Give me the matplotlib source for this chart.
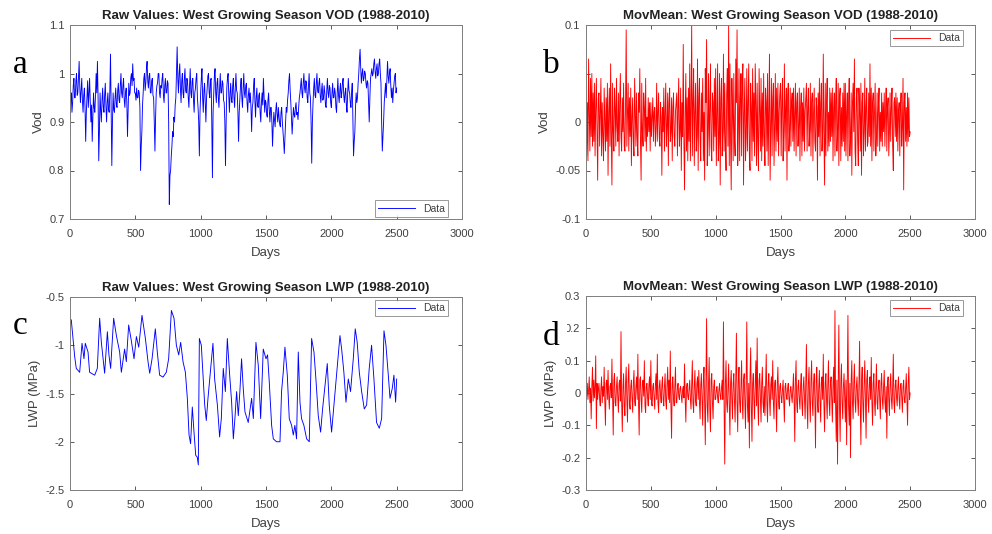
import numpy as np
import matplotlib
matplotlib.use("Agg")
import matplotlib.pyplot as plt
from matplotlib.ticker import FuncFormatter

plt.rcParams['font.family'] = ['Liberation Sans', 'DejaVu Sans']
plt.rcParams['axes.unicode_minus'] = False

# raw VOD sampled every 5 days (0..2500), in thousandths
vod_raw = [
    870, 945, 960, 920, 940, 975, 990, 950, 950, 985, 1000, 955, 960, 990, 1025, 970, 940, 965, 990, 945,
    920, 955, 970, 930, 860, 920, 950, 985, 930, 960, 990, 940, 900, 935, 860, 910, 960, 930, 920, 955,
    1000, 960, 1025, 950, 820, 880, 960, 925, 900, 945, 970, 930, 920, 955, 980, 935, 900, 940, 960, 925,
    920, 965, 1040, 930, 810, 900, 960, 925, 920, 950, 970, 935, 930, 965, 980, 945, 940, 975, 1000, 960,
    950, 975, 990, 945, 930, 960, 970, 940, 870, 930, 980, 955, 960, 990, 1000, 975, 1020, 985, 990, 960,
    960, 945, 970, 950, 950, 965, 960, 930, 800, 850, 880, 935, 960, 990, 1000, 965, 980, 1010, 1025, 985,
    970, 995, 1000, 960, 960, 985, 990, 955, 950, 900, 840, 910, 960, 975, 980, 1000, 1000, 960, 950, 975,
    970, 990, 1000, 955, 940, 975, 990, 960, 960, 985, 980, 900, 730, 790, 800, 830, 850, 880, 870, 910,
    900, 935, 950, 1000, 1055, 990, 960, 1000, 1020, 970, 940, 985, 1000, 960, 950, 990, 1010, 965, 960, 990,
    980, 950, 930, 975, 1010, 960, 950, 985, 990, 945, 920, 960, 970, 990, 1000, 950, 930, 900, 830, 920,
    960, 990, 1010, 950, 920, 965, 980, 940, 900, 950, 970, 995, 1000, 960, 950, 985, 990, 900, 785, 920,
    960, 995, 1010, 960, 940, 980, 990, 950, 930, 970, 1000, 960, 960, 985, 980, 945, 940, 900, 810, 900,
    970, 990, 1000, 955, 920, 960, 980, 945, 940, 975, 990, 950, 930, 970, 1000, 965, 960, 920, 860, 920,
    950, 975, 990, 950, 930, 970, 1000, 960, 950, 975, 980, 940, 920, 955, 970, 940, 960, 930, 880, 930,
    940, 975, 990, 945, 910, 950, 970, 935, 930, 955, 960, 920, 900, 940, 960, 935, 990, 955, 920, 945,
    940, 915, 910, 945, 960, 925, 900, 930, 930, 900, 850, 890, 920, 905, 890, 925, 940, 915, 900, 930,
    910, 895, 890, 920, 930, 900, 880, 860, 835, 870, 900, 930, 920, 945, 960, 985, 1000, 965, 940, 905,
    875, 905, 930, 915, 910, 930, 940, 915, 920, 905, 930, 950, 960, 975, 990, 960, 950, 980, 1000, 970,
    960, 985, 980, 950, 940, 975, 1000, 960, 950, 900, 815, 900, 940, 970, 990, 955, 950, 980, 1000, 965,
    960, 980, 990, 955, 940, 965, 980, 945, 950, 975, 960, 935, 930, 965, 990, 960, 950, 975, 970, 940,
    930, 960, 980, 950, 950, 970, 960, 930, 920, 960, 990, 955, 940, 965, 980, 950, 960, 980, 990, 955,
    940, 960, 970, 935, 920, 960, 990, 965, 960, 940, 930, 960, 980, 910, 830, 860, 880, 930, 960, 940,
    950, 980, 1000, 1030, 1050, 1010, 980, 1000, 1010, 985, 990, 1005, 1000, 980, 970, 985, 980, 940, 900, 950,
    990, 1000, 1010, 995, 1000, 1020, 1030, 1005, 990, 1010, 1020, 995, 1000, 1020, 1030, 1000, 980, 900, 840, 870,
    900, 940, 960, 980, 950, 990, 1025, 995, 980, 1000, 1010, 975, 950, 970, 940, 965, 980, 995, 1000, 960,
    970,
]

# VOD minus moving mean, every 5 days, in thousandths
vod_mov = [
    100, -35, 20, -40, 65, 10, -30, 45, -15, 50, -25, 30, -20, 40, -35, 15, 45, -10, -60, 25,
    30, -25, 10, 45, -35, 20, -15, -40, 35, 5, -30, 25, -20, 40, -55, 10, 35, -25, 60, -15,
    -65, 40, -10, -30, 35, 15, -25, 45, -5, -20, 30, -35, 20, 50, -15, -30, 25, -10, 40, -25,
    -30, 20, 95, -25, 10, 40, -30, 25, -15, 35, -45, 5, 25, -20, -35, 45, 10, -25, 30, -15,
    -35, 30, 10, 55, -20, -60, 40, -10, -25, 30, 15, -20, 45, -30, 5, -15, 25, -10, 20, -30,
    20, -15, 5, 25, -20, 10, 15, -25, -5, 40, -20, 10, 30, -15, -25, 20, 5, -55, 15, -10,
    35, -30, 10, 40, -25, -5, 30, -45, 20, 35, -20, -10, 25, -40, 15, 30, -15, -25, 10, 20,
    30, -35, 15, 45, -25, -10, 35, -50, 20, -15, 80, -20, -70, 10, 50, -30, 25, -40, 35, -20,
    60, -40, 15, 100, -35, 20, 55, -45, 10, 40, -30, -15, 65, -50, 25, 45, -20, -40, 30, -10,
    45, -40, 10, -60, 55, 20, 85, -45, -10, 50, -35, 15, 60, -25, -40, 30, 20, -30, 45, -15,
    55, -45, 10, 60, -40, -20, 50, -65, 25, 45, -35, -10, 70, -30, 40, -20, -50, 30, 55, -25,
    100, -45, 60, -20, -70, 45, 10, -40, 50, -15, -35, 65, 20, 95, -45, -10, 55, -40, 25, 50,
    -35, 45, 60, -65, 10, 45, -40, -15, 55, -30, 20, 60, -35, -50, 40, 15, -40, 55, -20, 30,
    -35, 60, 20, -45, 40, -20, -50, 55, 10, -30, 45, -40, 30, -25, 50, -15, -45, 35, 20, -30,
    50, -45, 15, 70, -60, -10, 45, -35, 25, 40, -45, -5, 50, -30, 35, -20, 40, -35, 10, 30,
    40, -35, 20, 45, -40, -10, 60, -30, 15, 35, -60, 25, 40, -30, -10, 35, -25, 20, 30, -20,
    35, -30, 10, 40, -35, 20, 30, -25, -5, 35, -40, 15, 30, -35, 20, -20, 35, -30, 10, 25,
    40, -30, 15, 35, -25, -10, 40, -35, 20, 30, -40, 10, 35, -20, -30, 25, 15, -60, 30, -15,
    45, -35, 20, 40, -30, -10, 70, -15, -65, 40, -35, 20, 45, -30, 10, -25, 35, -20, 30, -15,
    35, -40, 15, 30, -35, 20, 45, -30, -10, 40, -45, 25, 35, -40, 15, -25, 30, -20, 40, -30,
    40, -35, 10, 30, -40, 20, 45, -35, -15, 30, -55, 20, 40, -10, 65, -30, -45, 25, 35, -20,
    -45, 35, 10, -30, 40, -55, 20, 30, -35, -10, 45, -30, 15, 35, -25, -20, 30, -15, 60, -25,
    35, -40, 20, 30, -30, 10, 40, -35, -15, 30, -25, 15, 35, -30, 10, -20, 30, -25, 20, -10,
    30, -25, 10, 35, -30, 15, 25, -35, -10, 30, -20, 15, 35, -25, -50, 20, 25, -15, 30, -20,
    25, -30, 10, 20, -35, 15, 30, -25, -5, 45, -70, 20, 30, -20, 15, -25, 30, -20, 25, -15,
    -10,
]

# LWP minus moving mean, every 5 days, in thousandths of MPa
lwp_mov = [
    20, -10, 30, -20, 10, 50, -30, 15, -80, 20, 80, -25, 40, -15, 20, 115, -110, 30, -20, 10,
    30, -20, -40, 15, 50, -30, 20, -10, 80, -25, -100, 30, 40, -20, 70, -10, -50, 20, 30, -15,
    105, -20, -130, 40, 60, -30, -40, 20, 50, -15, -60, 30, 40, -25, 190, -30, -120, 20, 60, -40,
    -70, 30, 80, -20, -90, 40, 90, -30, -50, 20, 40, -15, -60, 30, 70, -25, -40, 20, 50, -20,
    120, -30, -130, 40, 50, -20, -60, 30, 40, -10, 100, -40, -60, 20, 30, -15, -40, 25, 50, -20,
    100, -30, -40, 20, 30, -15, -50, 25, 60, -20, 120, -30, -60, 20, 40, -10, -30, 25, 50, -20,
    -40, 20, 60, -25, -50, 30, 80, -20, 40, -30, 130, -40, -140, 30, 50, -20, -40, 25, 80, -30,
    -30, 15, 30, -10, -20, 15, 20, -10, -30, 10, 20, -15, 90, -20, -90, 15, 30, -10, -20, 15,
    40, -20, -50, 25, 100, -30, -60, 20, 70, -25, -40, 30, 50, -20, 70, -30, -80, 25, 60, -20,
    -100, 40, 80, -30, -160, 50, 230, -40, -90, 30, 110, -50, -120, 40, 60, -30, -80, 20, 40, -20,
    -20, 10, 20, -15, -30, 10, 30, -10, -20, 15, 40, -20, 220, -40, -220, 30, 100, -30, -60, 20,
    90, -40, -130, 30, 70, -20, -80, 30, 60, -25, -90, 40, 185, -30, -120, 40, 80, -30, -60, 20,
    100, -30, -80, 40, 60, -20, -110, 30, 220, -40, -90, 30, -170, 50, 140, -40, -150, 30, 60, -20,
    -80, 30, 100, -40, 170, -30, -100, 40, 60, -20, -90, 30, 80, -30, -60, 20, -70, 30, 120, -30,
    -90, 30, 60, -20, -70, 25, 50, -20, 100, -30, -80, 30, 40, -20, -120, 30, 80, -25, -50, 20,
    30, -15, -30, 10, 40, -20, -90, 20, 30, -10, -20, 15, 30, -15, -40, 10, 20, -10, -30, 15,
    60, -20, -150, 40, 100, -30, -60, 20, 40, -20, -50, 25, 60, -30, -70, 20, 50, -20, -80, 30,
    150, -40, -110, 30, 80, -30, -90, 40, 100, -30, -70, 30, 60, -20, -170, 40, 80, -30, -60, 20,
    70, -30, -90, 30, 50, -20, 120, -40, -120, 30, 60, -20, -80, 30, 100, -30, -70, 25, 50, -20,
    -90, 30, 80, -30, 255, -40, -150, 40, -220, 30, 210, -40, -150, 30, 90, -30, -80, 20, 60, -20,
    -90, 40, -160, 30, 240, -40, -100, 30, -200, 40, 100, -30, -80, 30, 90, -25, -60, 20, 50, -20,
    -70, 30, 160, -40, -160, 40, 80, -30, -90, 30, 100, -30, -140, 40, 70, -20, -60, 25, 50, -20,
    110, -30, -100, 30, 60, -25, -70, 20, 90, -30, -50, 20, 40, -20, -80, 30, 60, -20, -50, 20,
    70, -25, -60, 20, -140, 30, 50, -20, -70, 25, 60, -20, -50, 20, 120, -30, -60, 25, 40, -15,
    -40, 20, 50, -20, -50, 25, 30, -15, -60, 20, 40, -20, -30, 15, 60, -25, -100, 30, 80, -20,
    0,
]

# raw LWP (MPa), read at turning points
lwp_days = [
    0, 10, 23, 36, 48, 74, 92, 107, 117, 138, 150, 189, 209, 227, 240, 265,
    286, 298, 311, 334, 355, 380, 393, 418, 431, 449, 469, 490, 508, 526,
    551, 577, 597, 610, 628, 653, 668, 686, 712, 737, 755, 776, 796, 814,
    832, 847, 865, 883, 898, 911, 923, 936, 949, 962, 974, 982, 990, 1005,
    1018, 1031, 1043, 1056, 1077, 1094, 1107, 1128, 1145, 1158, 1173, 1189,
    1204, 1222, 1237, 1250, 1262, 1275, 1288, 1300, 1313, 1326, 1339, 1364,
    1390, 1403, 1423, 1441, 1459, 1479, 1500, 1512, 1525, 1543, 1556, 1581,
    1607, 1619, 1632, 1645, 1663, 1678, 1696, 1709, 1721, 1734, 1747, 1760,
    1772, 1790, 1811, 1831, 1849, 1867, 1882, 1900, 1918, 1933, 1951, 1969,
    1984, 2002, 2020, 2035, 2053, 2066, 2079, 2096, 2112, 2130, 2147, 2168,
    2183, 2198, 2214, 2232, 2252, 2270, 2290, 2308, 2326, 2346, 2367, 2385,
    2403, 2418, 2436, 2449, 2466, 2479, 2492, 2500,
]
lwp_raw = [
    -0.72, -0.74, -0.93, -1.12, -1.24, -1.28, -0.98, -1.14, -0.98, -1.07,
    -1.28, -1.31, -1.24, -0.72, -0.97, -1.29, -0.86, -1.10, -1.24, -0.72,
    -0.90, -1.07, -1.28, -1.04, -1.17, -0.79, -0.95, -1.14, -0.91, -1.02,
    -0.69, -0.93, -1.17, -1.29, -1.14, -0.83, -1.07, -1.31, -1.33, -1.28,
    -1.14, -0.64, -0.72, -1.00, -1.10, -0.97, -1.17, -1.28, -1.55, -1.93,
    -2.02, -1.64, -1.90, -2.14, -2.16, -2.24, -0.93, -1.00, -1.31, -1.62,
    -1.78, -1.55, -1.24, -0.98, -1.35, -1.62, -1.95, -1.76, -1.24, -1.48,
    -0.93, -1.31, -1.59, -1.97, -1.76, -1.48, -1.73, -1.48, -1.14, -1.45,
    -1.69, -1.80, -1.55, -1.76, -0.97, -1.21, -1.76, -1.04, -1.14, -1.10,
    -1.38, -1.83, -1.97, -2.00, -2.00, -1.48, -1.28, -1.02, -1.31, -1.76,
    -1.83, -1.93, -1.83, -1.97, -1.07, -1.59, -1.76, -1.83, -1.97, -2.00,
    -0.93, -1.07, -1.35, -1.73, -1.90, -1.66, -1.42, -1.19, -1.62, -1.90,
    -1.62, -1.38, -1.10, -0.90, -1.04, -1.28, -1.59, -1.35, -1.48, -1.14,
    -0.83, -0.97, -1.28, -1.48, -1.66, -1.62, -1.24, -1.00, -1.35, -1.80,
    -1.86, -1.76, -0.85, -1.00, -1.31, -1.55, -1.45, -1.31, -1.59, -1.35,
]

W, H = 992, 534
fig = plt.figure(figsize=(W / 100, H / 100), dpi=100)

TXT = '#404040'
EDGE = '#7f7f7f'


def make_fmt(hidden=()):
    def f(v, p):
        if any(abs(v - h) < 1e-9 for h in hidden):
            return ''
        return '%g' % round(v, 6)
    return FuncFormatter(f)


def panel(rect, y, color, title, ylabel, ylim, yticks, leg_anchor, leg_loc,
          letter, lpos, x=None, hidden=(), lpad=2):
    if x is None:
        x = 5 * np.arange(len(y))
    l, t, r, b = rect
    ax = fig.add_axes([l / W, 1 - b / H, (r - l) / W, (b - t) / H])
    ax.plot(x, y, color=color, lw=0.65, label='Data')
    ax.set_xlim(0, 3000)
    ax.set_ylim(*ylim)
    ax.set_xticks(range(0, 3001, 500))
    ax.set_yticks(yticks)
    ax.yaxis.set_major_formatter(make_fmt(hidden))
    ax.tick_params(direction='in', length=3, width=0.6, colors=TXT,
                   labelsize=8, top=True, right=True)
    ax.tick_params(axis='x', pad=7)
    ax.tick_params(axis='y', pad=4)
    for s in ax.spines.values():
        s.set_color(EDGE)
        s.set_linewidth(0.7)
    ax.set_title(title, fontsize=9.5, fontweight='bold', color='#222222', pad=4)
    ax.set_xlabel('Days', fontsize=9.5, color=TXT, labelpad=6)
    ax.set_ylabel(ylabel, fontsize=9.5, color=TXT, labelpad=3)
    leg = ax.legend(loc=leg_loc, bbox_to_anchor=leg_anchor, fontsize=7.5,
                    frameon=True, fancybox=False, handlelength=3.5,
                    borderpad=0.3, borderaxespad=0.0)
    leg.get_frame().set_edgecolor(EDGE)
    leg.get_frame().set_linewidth(0.7)
    for txt in leg.get_texts():
        txt.set_color(TXT)
    fig.text(lpos[0] / W, 1 - lpos[1] / H, letter, fontsize=24,
             family=['Liberation Serif', 'DejaVu Serif'], color='black',
             ha='left', va='baseline',
             bbox=dict(facecolor='white', edgecolor='none', pad=lpad))
    return ax


panel((70, 25, 462, 219), np.array(vod_raw) / 1000, 'blue',
      'Raw Values: West Growing Season VOD (1988-2010)', 'Vod',
      (0.7, 1.1), [0.7, 0.8, 0.9, 1.0, 1.1], (0.964, 0.012), 'lower right',
      'a', (13, 73))
panel((586, 25, 975, 219), np.array(vod_mov) / 1000, 'red',
      'MovMean: West Growing Season VOD (1988-2010)', 'Vod',
      (-0.1, 0.1), [-0.1, -0.05, 0, 0.05, 0.1], (0.969, 0.974), 'upper right',
      'b', (543, 73), hidden=(0.05,))
panel((70, 297, 462, 490), lwp_raw, 'blue',
      'Raw Values: West Growing Season LWP (1988-2010)', 'LWP (MPa)',
      (-2.5, -0.5), [-2.5, -2, -1.5, -1, -0.5], (0.964, 0.984), 'upper right',
      'c', (13, 334), x=lwp_days)
panel((586, 296, 975, 490), np.array(lwp_mov) / 1000, 'red',
      'MovMean: West Growing Season LWP (1988-2010)', 'LWP (MPa)',
      (-0.3, 0.3), [-0.3, -0.2, -0.1, 0, 0.1, 0.2, 0.3], (0.969, 0.979),
      'upper right', 'd', (543, 345), lpad=5)

fig.savefig('out.png', dpi=100)
